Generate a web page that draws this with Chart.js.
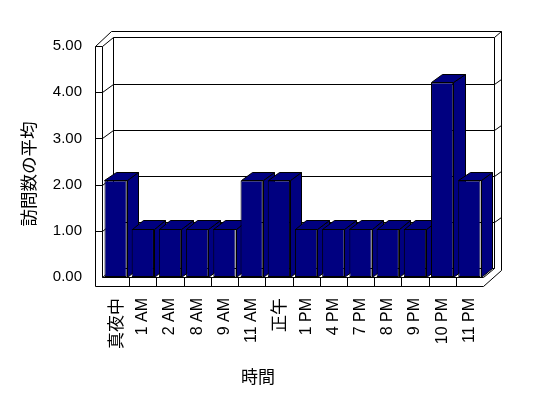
<!DOCTYPE html>
<html><head><meta charset="utf-8">
<script src="https://cdn.jsdelivr.net/npm/chart.js@4"></script>
<style>html,body{margin:0;padding:0;background:#fff}canvas{display:block}</style>
</head><body>
<canvas id="c" width="548" height="398"></canvas>
<script>
const categories = ['真夜中','1 AM','2 AM','8 AM','9 AM','11 AM','正午','1 PM','4 PM','7 PM','8 PM','9 PM','10 PM','11 PM'];
const averageVisits = [2.09,1.04,1.04,1.04,1.04,2.09,2.09,1.04,1.04,1.04,1.04,1.04,4.21,2.09];
const yTicks = [0,1,2,3,4,5];
const yTitle = '訪問数の平均';
const xTitle = '時間';

const DX = 11.4, DY = 8.6, WALL = 6.5, FLOOR = 9, LWALL = 7;
const BAR = '#000080';
const c = v => Math.round(v) + 0.5;
const isCJK = s => /[\u3000-\u9fff]/.test(s);

const box3d = {
  id: 'box3d',
  beforeDatasetsDraw(chart) {
    const ctx = chart.ctx, xs = chart.scales.x, ys = chart.scales.y;
    const L = xs.left, R = xs.right;
    const yF = v => ys.getPixelForValue(v);
    const yB = v => yF(v) - DY;
    const top = yTicks[yTicks.length - 1], bot = yTicks[0];
    ctx.save();
    ctx.lineWidth = 1; ctx.strokeStyle = '#000';
    const path = (pts) => { ctx.beginPath(); pts.forEach((p, i) => i ? ctx.lineTo(c(p[0]), c(p[1])) : ctx.moveTo(c(p[0]), c(p[1]))); };
    const line = (pts) => { path(pts); ctx.stroke(); };
    path([[L - LWALL, yF(top)], [L - LWALL, yF(bot) + FLOOR], [R, yF(bot) + FLOOR],
          [R + DX + WALL, yB(bot) + 1.5], [R + DX + WALL, yB(top) - WALL], [L + DX - 2.4, yB(top) - WALL]]);
    ctx.closePath(); ctx.fillStyle = '#fff'; ctx.fill(); ctx.stroke();
    line([[L - LWALL, yF(top)], [L, yF(top)], [L + DX, yB(top)]]);
    line([[L, yF(top)], [L, yF(bot)], [R, yF(bot)]]);
    line([[L + DX, yB(bot)], [L + DX, yB(top)], [R + DX, yB(top)], [R + DX, yB(bot)], [L + DX, yB(bot)]]);
    line([[R + DX, yB(top)], [R + DX + WALL, yB(top) - WALL]]);
    line([[L, yF(bot)], [L + DX, yB(bot)]]);
    line([[R, yF(bot)], [R + DX, yB(bot)]]);
    yTicks.slice(1, -1).forEach(v => {
      line([[L - LWALL, yF(v)], [L, yF(v)], [L + DX, yB(v)], [R + DX, yB(v)], [R + DX + WALL, yB(v) - WALL * 0.75]]);
    });
    const catW = (R - L) / categories.length;
    for (let i = 1; i < categories.length; i++) {
      const x = xs.getPixelForValue(i) - catW / 2;
      line([[x, yF(bot)], [x, yF(bot) + FLOOR]]);
    }
    const meta = chart.getDatasetMeta(0);
    ctx.fillStyle = BAR;
    meta.data.forEach(el => {
      const x0 = el.x - el.width / 2, x1 = el.x + el.width / 2, y = el.y, b = el.base;
      path([[x1, y], [x1 + DX, y - DY], [x1 + DX, b - DY], [x1, b]]); ctx.closePath(); ctx.fill(); ctx.stroke();
      path([[x0, y], [x0 + DX, y - DY], [x1 + DX, y - DY], [x1, y]]); ctx.closePath(); ctx.fill(); ctx.stroke();
    });
    ctx.restore();
  },
  afterDraw(chart) {
    const ctx = chart.ctx;
    ctx.save();
    ctx.fillStyle = '#000';
    ctx.font = '17px "Noto Sans CJK JP"';
    ctx.textAlign = 'center'; ctx.textBaseline = 'middle';
    ctx.fillText(xTitle, 258, 377);
    ctx.translate(28, 174); ctx.rotate(-Math.PI / 2);
    ctx.font = '17.5px "Noto Sans CJK JP"';
    ctx.fillText(yTitle, 0, 0);
    ctx.restore();
  }
};

new Chart(document.getElementById('c'), {
  type: 'bar',
  data: {
    labels: categories,
    datasets: [{
      data: averageVisits,
      backgroundColor: BAR,
      borderColor: '#000',
      borderWidth: 1,
      borderSkipped: false,
      barPercentage: 0.82,
      categoryPercentage: 1
    }]
  },
  options: {
    responsive: false,
    animation: false,
    layout: { padding: { top: 46, right: 65, left: 0, bottom: 0 } },
    plugins: { legend: { display: false }, tooltip: { enabled: false } },
    scales: {
      x: {
        grid: { display: false, drawTicks: false },
        border: { display: false },
        ticks: { minRotation: 90, maxRotation: 90, autoSkip: false, padding: 21, color: '#000',
                 font: ctx => {
                   const lab = categories[ctx.index] || '';
                   return isCJK(lab)
                     ? { family: '"Noto Sans CJK JP"', size: 17 }
                     : { family: '"Liberation Sans"', size: 16 };
                 } },
        afterFit: s => { s.height = 121; }
      },
      y: {
        min: yTicks[0], max: yTicks[yTicks.length - 1],
        afterBuildTicks: s => { s.ticks = yTicks.map(v => ({ value: v })); },
        grid: { display: false, drawTicks: false },
        border: { display: false },
        ticks: { padding: 20, color: '#000', callback: v => Number(v).toFixed(2),
                 font: { family: '"Liberation Sans"', size: 15 } },
        afterFit: s => { s.width = 102; }
      }
    }
  },
  plugins: [box3d]
});
</script>
</body></html>
